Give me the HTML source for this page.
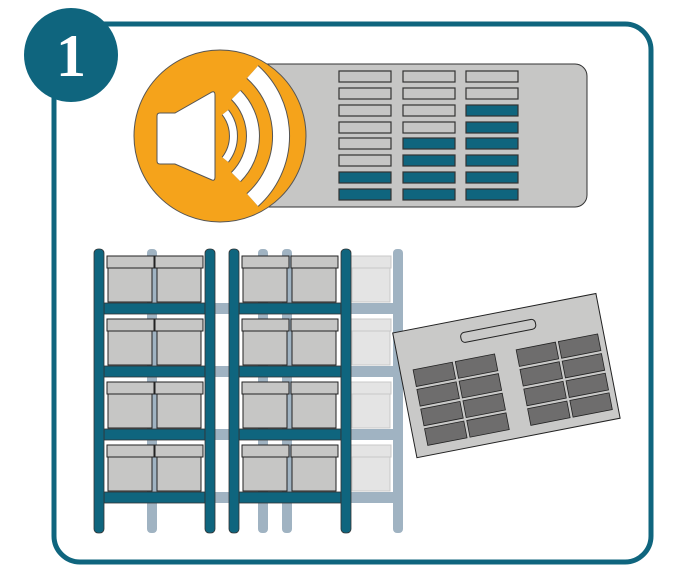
<!DOCTYPE html>
<html><head><meta charset="utf-8"><style>html,body{margin:0;padding:0;background:#fff}svg{display:block}</style></head>
<body>
<svg width="693" height="583" viewBox="0 0 693 583" xmlns="http://www.w3.org/2000/svg">
<rect x="54" y="24" width="597" height="538" rx="26" fill="#fff" stroke="#0f657e" stroke-width="5"/>
<circle cx="71" cy="55" r="47" fill="#0f657e"/>
<text x="71" y="76" font-family="Liberation Serif, serif" font-weight="bold" font-size="60" fill="#fff" text-anchor="middle">1</text>

<!-- panel -->
<rect x="230" y="64" width="357" height="143" rx="12" fill="#c6c6c5" stroke="#333" stroke-width="1"/>
<g stroke="#333" stroke-width="1.2">
<rect x="339" y="71" width="52" height="11" fill="#c6c6c5"/>
<rect x="339" y="88" width="52" height="11" fill="#c6c6c5"/>
<rect x="339" y="105" width="52" height="11" fill="#c6c6c5"/>
<rect x="339" y="122" width="52" height="11" fill="#c6c6c5"/>
<rect x="339" y="138" width="52" height="11" fill="#c6c6c5"/>
<rect x="339" y="155" width="52" height="11" fill="#c6c6c5"/>
<rect x="339" y="172" width="52" height="11" fill="#0f657e"/>
<rect x="339" y="189" width="52" height="11" fill="#0f657e"/>
<rect x="403" y="71" width="52" height="11" fill="#c6c6c5"/>
<rect x="403" y="88" width="52" height="11" fill="#c6c6c5"/>
<rect x="403" y="105" width="52" height="11" fill="#c6c6c5"/>
<rect x="403" y="122" width="52" height="11" fill="#c6c6c5"/>
<rect x="403" y="138" width="52" height="11" fill="#0f657e"/>
<rect x="403" y="155" width="52" height="11" fill="#0f657e"/>
<rect x="403" y="172" width="52" height="11" fill="#0f657e"/>
<rect x="403" y="189" width="52" height="11" fill="#0f657e"/>
<rect x="466" y="71" width="52" height="11" fill="#c6c6c5"/>
<rect x="466" y="88" width="52" height="11" fill="#c6c6c5"/>
<rect x="466" y="105" width="52" height="11" fill="#0f657e"/>
<rect x="466" y="122" width="52" height="11" fill="#0f657e"/>
<rect x="466" y="138" width="52" height="11" fill="#0f657e"/>
<rect x="466" y="155" width="52" height="11" fill="#0f657e"/>
<rect x="466" y="172" width="52" height="11" fill="#0f657e"/>
<rect x="466" y="189" width="52" height="11" fill="#0f657e"/>
</g>

<!-- speaker -->
<circle cx="220" cy="136" r="86" fill="#f5a31b" stroke="#555" stroke-width="1"/>
<path d="M160 113 L175 113 L212 92 Q215 91 215 95 L215 177 Q215 181 212 180 L175 164 L160 164 Q157 164 157 161 L157 116 Q157 113 160 113 Z" fill="#fff" stroke="#555" stroke-width="1"/>
<g fill="none">
<path d="M225.3 112.3 A38.5 38.5 0 0 1 225.3 159.7" stroke="#555" stroke-width="9"/>
<path d="M225.3 112.3 A38.5 38.5 0 0 1 225.3 159.7" stroke="#fff" stroke-width="7"/>
<path d="M236 95 A58 58 0 0 1 236 177" stroke="#555" stroke-width="14"/>
<path d="M236 95 A58 58 0 0 1 236 177" stroke="#fff" stroke-width="12"/>
<path d="M252.5 72 A86 86 0 0 1 252.5 200" stroke="#555" stroke-width="18"/>
<path d="M252.5 72 A86 86 0 0 1 252.5 200" stroke="#fff" stroke-width="16"/>
</g>

<!-- back light shelves -->
<g fill="#a0b3c2">
<rect x="147" y="249" width="10" height="284" rx="4"/>
<rect x="258" y="249" width="10" height="284" rx="4"/>
<rect x="282" y="249" width="10" height="284" rx="4"/>
<rect x="393" y="249" width="10" height="284" rx="4"/>
<rect x="215" y="303" width="178" height="11"/>
<rect x="215" y="366" width="178" height="11"/>
<rect x="215" y="429" width="178" height="11"/>
<rect x="215" y="492" width="178" height="11"/>
</g>
<g fill="#e4e4e4" stroke="#c8c8c8" stroke-width="1">
<rect x="351" y="256" width="40" height="12"/><rect x="352" y="268" width="38" height="34"/>
<rect x="351" y="319" width="40" height="12"/><rect x="352" y="331" width="38" height="34"/>
<rect x="351" y="382" width="40" height="12"/><rect x="352" y="394" width="38" height="34"/>
<rect x="351" y="445" width="40" height="12"/><rect x="352" y="457" width="38" height="34"/>
</g>

<!-- boxes -->
<g fill="#c6c6c5" stroke="#222" stroke-width="1">
<g id="row">
<rect x="108" y="268" width="44" height="34"/><rect x="107" y="256" width="47" height="12"/>
<rect x="157" y="268" width="44" height="34"/><rect x="155" y="256" width="48" height="12"/>
<rect x="243" y="268" width="44" height="34"/><rect x="242" y="256" width="47" height="12"/>
<rect x="292" y="268" width="44" height="34"/><rect x="291" y="256" width="47" height="12"/>
</g>
<use href="#row" y="63"/>
<use href="#row" y="126"/>
<use href="#row" y="189"/>
</g>

<!-- front dark shelves -->
<g fill="#0f657e" stroke="#333" stroke-width="0.8">
<rect x="104" y="303" width="101" height="11"/>
<rect x="104" y="366" width="101" height="11"/>
<rect x="104" y="429" width="101" height="11"/>
<rect x="104" y="492" width="101" height="11"/>
<rect x="239" y="303" width="102" height="11"/>
<rect x="239" y="366" width="102" height="11"/>
<rect x="239" y="429" width="102" height="11"/>
<rect x="239" y="492" width="102" height="11"/>
<rect x="94" y="249" width="10" height="284" rx="4"/>
<rect x="205" y="249" width="10" height="284" rx="4"/>
<rect x="229" y="249" width="10" height="284" rx="4"/>
<rect x="341" y="249" width="10" height="284" rx="4"/>
</g>

<!-- paper -->
<g transform="rotate(-11 507 376)">
<rect x="403" y="312" width="207" height="127" fill="#c9c9c8" stroke="#222" stroke-width="1"/>
<rect x="469" y="325" width="76" height="10" rx="4" fill="#c9c9c8" stroke="#222" stroke-width="1"/>
<g fill="#6e6d6d" stroke="#222" stroke-width="0.8">
<rect x="416" y="352" width="40" height="17"/><rect x="459" y="352" width="40" height="17"/>
<rect x="416" y="372" width="40" height="17"/><rect x="459" y="372" width="40" height="17"/>
<rect x="416" y="392" width="40" height="17"/><rect x="459" y="392" width="40" height="17"/>
<rect x="416" y="412" width="40" height="17"/><rect x="459" y="412" width="40" height="17"/>
<rect x="521" y="352" width="40" height="17"/><rect x="564" y="352" width="40" height="17"/>
<rect x="521" y="372" width="40" height="17"/><rect x="564" y="372" width="40" height="17"/>
<rect x="521" y="392" width="40" height="17"/><rect x="564" y="392" width="40" height="17"/>
<rect x="521" y="412" width="40" height="17"/><rect x="564" y="412" width="40" height="17"/>
</g>
</g>
</svg>
</body></html>
